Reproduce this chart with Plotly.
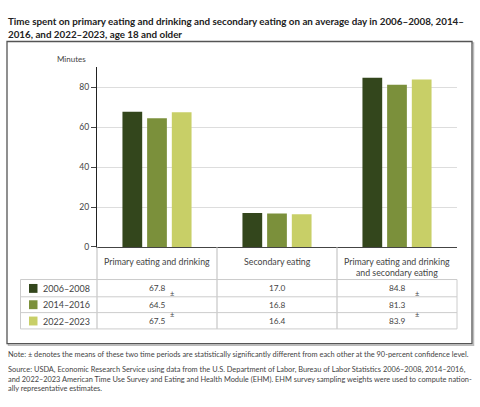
import plotly.graph_objects as go

categories = ["Primary eating and drinking", "Secondary eating",
              "Primary eating and drinking and secondary eating"]
header_labels = ["Primary eating and drinking", "Secondary eating",
                 "Primary eating and drinking<br>and secondary eating"]
periods = ["2006–2008", "2014–2016", "2022–2023"]
values_2006 = [67.8, 17.0, 84.8]
values_2014 = [64.5, 16.8, 81.3]
values_2022 = [67.5, 16.4, 83.9]
colors = ["#33461c", "#7b903b", "#c8cf67"]
yticks = [0, 20, 40, 60, 80]

series = [values_2006, values_2014, values_2022]

W, H = 480, 407
def xp(x): return x / W
def yp(y): return 1 - y / H

FONT = "Lato"
TXT = "#444444"

fig = go.Figure()
for name, vals, col in zip(periods, series, colors):
    fig.add_trace(go.Bar(x=categories, y=vals, name=name, marker_color=col,
                         marker_line_width=0, showlegend=False,
                         hovertemplate="%{y:.1f}<extra>" + name + "</extra>"))

shapes = []
ann = []
# frame
shapes.append(dict(type="rect", xref="paper", yref="paper", x0=xp(8.5), x1=xp(473.5), y0=yp(43.5), y1=yp(349.5),
                   line=dict(color="#bbbbbb", width=1.5), layer="below"))
shapes.append(dict(type="rect", xref="paper", yref="paper", x0=xp(7), x1=xp(472), y0=yp(42), y1=yp(348),
                   line=dict(color="#555555", width=1.3), fillcolor="white", layer="below"))

# table geometry
col_edges = [97, 217, 337, 457]
row_lines = [283, 300.5, 316.5, 333]
row_centers = [292, 308.5, 325]
tleft = 20.5
lc = "#cccccc"
for x in col_edges[:3]:
    shapes.append(dict(type="line", xref="paper", yref="paper", x0=xp(x), x1=xp(x), y0=yp(250), y1=yp(333),
                       line=dict(color="#bbbbbb", width=1)))
shapes.append(dict(type="line", xref="paper", yref="paper", x0=xp(457), x1=xp(457), y0=yp(283), y1=yp(333),
                   line=dict(color=lc, width=1)))
shapes.append(dict(type="line", xref="paper", yref="paper", x0=xp(tleft), x1=xp(tleft), y0=yp(283), y1=yp(333),
                   line=dict(color=lc, width=1)))
for y in row_lines:
    shapes.append(dict(type="line", xref="paper", yref="paper", x0=xp(tleft), x1=xp(457), y0=yp(y), y1=yp(y),
                       line=dict(color=lc, width=1)))

# header labels
for i, lab in enumerate(header_labels):
    cx = (col_edges[i] + col_edges[i + 1]) / 2
    ann.append(dict(text=lab, x=xp(cx), y=yp(257.5), xref="paper", yref="paper", xanchor="center", yanchor="top",
                    showarrow=False, font=dict(family=FONT, size=8.8, color=TXT), align="center"))

# legend rows + values
for r, (name, vals, col) in enumerate(zip(periods, series, colors)):
    cy = row_centers[r]
    shapes.append(dict(type="rect", xref="paper", yref="paper", x0=xp(29), x1=xp(37.5), y0=yp(cy - 4.5), y1=yp(cy + 4.5),
                       fillcolor=col, line=dict(width=0)))
    ann.append(dict(text=name, x=xp(41), y=yp(cy), xref="paper", yref="paper", xanchor="left", yanchor="middle",
                    showarrow=False, font=dict(family=FONT, size=9, color=TXT)))
    for i, v in enumerate(vals):
        cx = (col_edges[i] + col_edges[i + 1]) / 2
        ann.append(dict(text=f"{v:.1f}", x=xp(cx), y=yp(cy), xref="paper", yref="paper", xanchor="center",
                        yanchor="middle", showarrow=False, font=dict(family=FONT, size=8.3, color=TXT)))

# significance marks
for (x, y) in [(172, 297.5), (172, 318), (417, 297.5), (417, 318)]:
    ann.append(dict(text="±", x=xp(x), y=yp(y), xref="paper", yref="paper", xanchor="center", yanchor="middle",
                    showarrow=False, font=dict(family=FONT, size=7.5, color=TXT)))

# title
ann.append(dict(text="<b>Time spent on primary eating and drinking and secondary eating on an average day in 2006–2008, 2014–<br>2016, and 2022–2023, age 18 and older</b>",
                x=xp(6), y=yp(13.5), xref="paper", yref="paper", xanchor="left", yanchor="top", align="left",
                showarrow=False, font=dict(family=FONT, size=9.8, color="#222222")))
# y-axis title
ann.append(dict(text="Minutes", x=xp(88), y=yp(60), xref="paper", yref="paper", xanchor="right", yanchor="middle",
                showarrow=False, font=dict(family=FONT, size=8, color=TXT)))
# notes
ann.append(dict(text="Note: ± denotes the means of these two time periods are statistically significantly different from each other at the 90-percent confidence level.",
                x=xp(6), y=yp(359), xref="paper", yref="paper", xanchor="left", yanchor="middle", align="left",
                showarrow=False, font=dict(family=FONT, size=7.4, color=TXT)))
ann.append(dict(text="Source: USDA, Economic Research Service using data from the U.S. Department of Labor, Bureau of Labor Statistics 2006–2008, 2014–2016,<br>and 2022–2023 American Time Use Survey and Eating and Health Module (EHM). EHM survey sampling weights were used to compute nation-<br>ally representative estimates.",
                x=xp(6), y=yp(367.5), xref="paper", yref="paper", xanchor="left", yanchor="top", align="left",
                showarrow=False, font=dict(family=FONT, size=7.4, color=TXT)))

fig.update_layout(
    width=W, height=H, margin=dict(l=0, r=0, t=0, b=0),
    paper_bgcolor="white", plot_bgcolor="white",
    barmode="group", bargap=0.383, bargroupgap=0.2,
    shapes=shapes, annotations=ann,
    xaxis=dict(domain=[xp(97), xp(457)], showticklabels=False, ticks="", showgrid=False,
               showline=True, linecolor="#444444", linewidth=1.2, zeroline=False, fixedrange=True),
    yaxis=dict(domain=[yp(250), yp(68.3)], range=[0, 90], tickvals=yticks, showgrid=True, gridcolor="#dddddd",
               gridwidth=1, showline=True, linecolor="#222222", linewidth=1.2, ticks="outside", ticklen=5,
               tickcolor="#444444", tickfont=dict(family=FONT, size=8.5, color=TXT), zeroline=False, fixedrange=True),
)
fig.write_html("out.html")
